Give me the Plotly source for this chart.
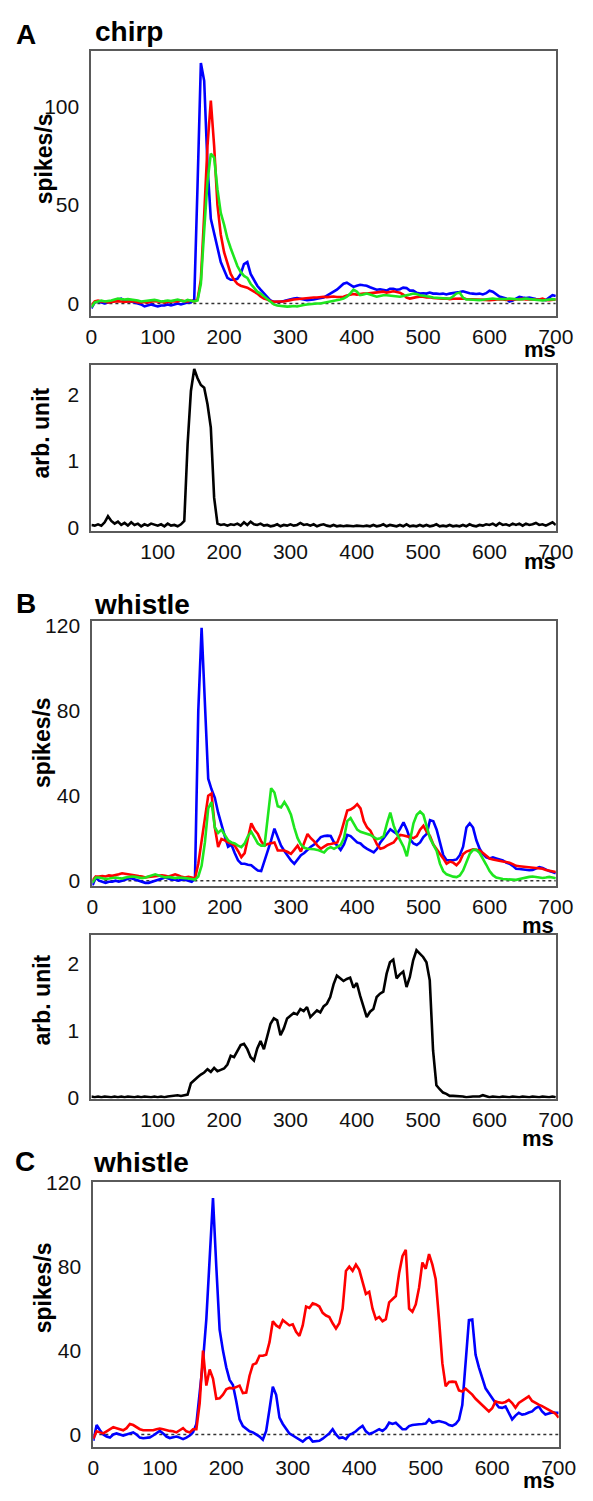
import plotly.graph_objects as go

W, H = 593, 1501
time_ms = list(range(0, 705, 5))

# ---------------- Panel A: chirp (spikes/s) ----------------
chirp_blue = [
    -2.5, 0.5, 1, 0.5, 0, 0.5, 1, 1.5, 2, 2.5,
    1.5, 1, 1, 0.5, 0, -0.5, -1.5, -1, -0.5, -1,
    -1.5, -1, -1, -0.5, -1, -0.5, 0, -0.5, 0, 0.5,
    0.5, 2, 60, 122, 113, 70, 43, 36, 29, 21,
    17, 13, 12, 12, 12.5, 15, 20, 21, 15, 12,
    9, 7, 5, 3.5, 1.5, 0.8, 0.8, 0.9, 1.2, 1.7,
    2, 2.5, 2.7, 2.5, 2, 1.7, 1.8, 2, 2.4, 2.8,
    3, 4, 5, 5.8, 7, 8.5, 10, 10.5, 9.5, 8.4,
    9, 9.5, 9.2, 9, 8.2, 7.5, 7, 7.2, 7, 6.5,
    7.5, 7.5, 7, 7.2, 8, 7.8, 6.5, 6.5, 5.5, 5,
    5.2, 5, 5.5, 5, 5, 4.8, 5, 4.6, 5, 5.2,
    5.5, 5.8, 6.2, 5.5, 5.2, 5, 4.8, 5, 4.6, 5.2,
    6.5, 6, 4.5, 3.5, 3, 2.5, 1, 1.5, 2.5, 3.3,
    3, 2.8, 3, 2.5, 2.2, 2, 1.8, 1.7, 3, 4.2,
    3.8,
]
chirp_red = [
    -1, 1, 1.5, 1, 1, 0.5, 0.8, 1, 1.2, 1,
    0.8, 1, 1.2, 1, 0.5, 0.5, 0.8, 0.5, 1, 1.2,
    1, 0.8, 0.5, 0.8, 1, 1.2, 1, 1.5, 1.2, 1,
    1.5, 1, 2, 12, 45, 80, 103, 80, 50, 35,
    26, 20, 15, 12, 10, 9, 8.5, 8, 7, 6,
    5, 3.5, 2.5, 2, 1.2, 0.9, 0.8, 1, 1, 1.5,
    1.7, 2, 2.2, 2.3, 2.5, 2.5, 2.8, 3, 3, 3.2,
    3.4, 3.2, 3.4, 3.5, 3.3, 3.4, 3.4, 4, 4.5, 4.8,
    4.5, 4.8, 5, 5, 5.2, 5.5, 5.8, 5.8, 6, 5.5,
    6, 6.2, 5.8, 5.5, 4.5, 3, 2.5, 3, 3.2, 3.4,
    3.4, 3, 3.2, 2.8, 2.6, 2.5, 2.4, 2.5, 2.2, 2.4,
    2.5, 2.6, 2.5, 2.3, 2.2, 2, 2.1, 1.9, 1.7, 1.8,
    1.7, 1.8, 2, 2.2, 2, 1.8, 2, 1.9, 2, 2.2,
    2.3, 2, 2, 1.8, 1.7, 2, 2.5, 1.8, 1.6, 1.8,
    2,
]
chirp_green = [
    -2, 0.5, 1, 1.5, 1, 1.2, 1.5, 2, 2.5, 2.2,
    2, 2.2, 2, 2, 1.5, 1, 1.2, 1.5, 1.5, 1.8,
    1.5, 1, 1.2, 1.5, 1.2, 1.5, 2, 1.5, 1, 1.8,
    1.5, 1, 1.5, 10, 37, 62, 76, 74, 58, 46,
    40, 33, 28, 23, 19, 16, 14, 13, 10, 8,
    6, 5, 3.5, 2, 0.5, -0.5, -1, -1.3, -1.5, -1.6,
    -1.5, -1.3, -1.5, -1, -0.8, -0.5, -0.3, 0, 0, 0,
    0.3, 0.6, 1, 1.3, 1.7, 2, 2.5, 3.4, 5, 7,
    6, 4.2, 4.5, 5, 4.5, 4, 3.4, 3.8, 4.2, 4.2,
    4, 3.6, 3.4, 3.4, 3.8, 4, 4.5, 5, 4.8, 4.2,
    4, 3.8, 3.4, 3, 2.8, 2.6, 2.5, 2.5, 2.5, 3.5,
    5, 5.5, 3, 2, 2, 1.8, 1.7, 1.7, 1.9, 2.2,
    2.5, 2.5, 2.3, 2.2, 2, 2.2, 2.5, 2.3, 2, 2,
    2.2, 2.5, 2.2, 2, 1.8, 1.5, 1.5, 1.8, 2, 2.2,
    2,
]
chirp_stim = [
    0.04, 0.03, 0.05, 0.03, 0.08, 0.17, 0.10, 0.06, 0.09, 0.04,
    0.07, 0.03, 0.08, 0.04, 0.06, 0.02, 0.05, 0.03, 0.06, 0.04,
    0.03, 0.05, 0.02, 0.06, 0.03, 0.04, 0.02, 0.05, 0.10, 1.25,
    2.05, 2.38, 2.24, 2.14, 2.10, 1.85, 1.50, 0.45, 0.06, 0.04,
    0.05, 0.03, 0.05, 0.04, 0.06, 0.03, 0.08, 0.04, 0.09, 0.05,
    0.04, 0.06, 0.03, 0.04, 0.02, 0.03, 0.05, 0.02, 0.04, 0.03,
    0.05, 0.03, 0.04, 0.07, 0.04, 0.05, 0.03, 0.05, 0.02, 0.04,
    0.05, 0.03, 0.02, 0.04, 0.02, 0.03, 0.02, 0.03, 0.02, 0.02,
    0.03, 0.02, 0.02, 0.03, 0.02, 0.04, 0.02, 0.03, 0.05, 0.02,
    0.04, 0.03, 0.02, 0.04, 0.02, 0.05, 0.02, 0.03, 0.02, 0.04,
    0.02, 0.04, 0.02, 0.03, 0.05, 0.02, 0.03, 0.02, 0.04, 0.02,
    0.03, 0.02, 0.04, 0.02, 0.05, 0.03, 0.02, 0.04, 0.03, 0.05,
    0.04, 0.06, 0.03, 0.07, 0.04, 0.05, 0.03, 0.06, 0.04, 0.06,
    0.03, 0.06, 0.04, 0.05, 0.07, 0.04, 0.05, 0.03, 0.06, 0.08,
    0.04,
]

# ---------------- Panel B: whistle (spikes/s) ----------------
whistle_blue = [
    -2.5, 1.5, 0, -0.5, -1, -0.5, -0.5, 0, -0.5, 0,
    0.5, 1, 1, 0.5, 0, -0.5, -1, -1, -0.5, 0,
    0.5, 1, 1.5, 1, 0.5, 0.5, 0, 0.5, 0.5, 0,
    -0.5, 1, 80, 119, 85, 48, 43, 39, 32, 26,
    21, 16, 17, 13, 9.6, 8, 8, 7.5, 7.3, 6,
    4.8, 4.5, 9, 14, 19, 24.5, 20, 16.5, 14, 11.5,
    9.5, 8, 10, 12, 13, 14.5, 16, 17, 19, 20.5,
    21, 21.2, 21, 18, 16.5, 14.5, 17, 21.5, 21, 19.5,
    18, 17.5, 16, 15, 14, 13.3, 15, 18, 20, 22,
    24.2, 23, 22, 24.5, 27.5, 24, 19.5, 17.5, 16.8, 18,
    20.5, 22, 28.5, 28, 24, 18, 12, 9.6, 9.6, 9.6,
    10, 12, 16, 25, 27, 25, 19, 15, 12.5, 11,
    10.5, 11, 10.5, 10, 9.5, 8.5, 8, 7, 5.6, 5.5,
    5.2, 5, 4.9, 5, 5.8, 6.4, 6, 5.2, 4.5, 4.1,
    3.5,
]
whistle_red = [
    0, 2, 2, 2.2, 2, 2.5, 2.3, 2.5, 3, 3.5,
    3.2, 2.8, 2.5, 2.5, 2.2, 2, 1.5, 1.8, 2, 2,
    2.2, 2.5, 2.3, 2, 2.5, 3, 2.5, 1.8, 1.5, 1.8,
    1.5, 1, 8, 18, 30, 40, 41, 25, 15.8, 19.6,
    19, 18, 17.5, 16.5, 14, 11.1, 13, 20, 27, 24,
    22, 18.5, 16.5, 17.3, 17.6, 18, 14.2, 14.2, 14.2, 13.5,
    12.6, 14.5, 16.5, 13.7, 18, 22, 20, 18.5, 16.5, 15,
    16, 17, 17.3, 17.5, 18, 22, 28, 33, 33.5, 34.5,
    36, 34, 28, 25, 23.5, 20, 17, 15, 15.5, 16.5,
    17.2, 18, 20, 21.5, 21.3, 21, 20.5, 20, 21, 24,
    25.8, 23, 21, 17, 15, 13, 10.5, 8, 9, 8.5,
    7.3, 9, 12.5, 13.7, 14.2, 14.7, 14.5, 14.2, 13, 11.5,
    10.4, 10, 9.6, 9.3, 9, 8.8, 8.5, 7.8, 7, 6.8,
    6.6, 6.4, 6.2, 6, 5.8, 5.7, 5.6, 5, 4.6, 4.3,
    4.1,
]
whistle_green = [
    -1, 1.5, 1.5, 1, 0.8, 1, 1.2, 1.5, 1.2, 1,
    1.5, 1.8, 2, 1.8, 1.5, 1.2, 1.5, 2, 2.5, 3,
    2.5, 2, 1.5, 1.8, 1.5, 1.2, 1.5, 1.2, 1.2, 1,
    0.8, 0.5, 2, 7, 18, 34, 37, 25, 22.5, 24,
    21.5, 19, 18, 17.5, 16.5, 15.8, 17.5, 21, 23, 20,
    17.5, 16.5, 16.5, 30, 43.5, 41.5, 35, 34.5, 37, 34.5,
    31, 25, 20, 17, 15.5, 15, 15, 14.8, 14.5, 14,
    13.3, 15, 15.8, 15, 16, 16.8, 20, 28, 29.5, 27,
    24, 23, 22.5, 22, 21.5, 20.5, 19.6, 20, 21, 27,
    32, 26, 22, 19, 16, 11.5, 20, 27, 31, 32.5,
    31, 25, 20, 17, 14, 8, 4.5, 3, 2.3, 1.9,
    1.7, 2.5, 4.8, 9, 12.6, 14.5, 14.5, 13, 10.5, 7.5,
    4.5, 2.6, 1.5, 1.1, 0.8, 0.7, 0.6, 0.5, 0.4, 0.8,
    1.2, 1.5, 1.8, 2, 1.8, 1.5, 1.3, 1.5, 1.8, 1.5,
    1.1,
]
whistle_stim = [
    0.01, 0.00, 0.01, 0.00, 0.01, 0.00, 0.00, 0.01, 0.00, 0.01,
    0.00, 0.01, 0.00, 0.00, 0.01, 0.00, 0.01, 0.00, 0.00, 0.01,
    0.00, 0.01, 0.00, 0.01, 0.02, 0.02, 0.03, 0.02, 0.03, 0.04,
    0.21, 0.26, 0.30, 0.34, 0.37, 0.42, 0.38, 0.44, 0.39, 0.41,
    0.43, 0.49, 0.62, 0.60, 0.70, 0.78, 0.80, 0.72, 0.60, 0.55,
    0.73, 0.84, 0.72, 0.90, 1.10, 1.18, 1.15, 0.93, 1.03, 1.18,
    1.22, 1.26, 1.24, 1.32, 1.29, 1.35, 1.20, 1.25, 1.30, 1.27,
    1.36, 1.40, 1.50, 1.69, 1.82, 1.78, 1.74, 1.77, 1.79, 1.64,
    1.71, 1.52, 1.35, 1.20, 1.28, 1.32, 1.50, 1.55, 1.58, 1.85,
    2.02, 2.06, 1.78, 1.84, 1.88, 1.65, 1.80, 2.05, 2.20, 2.15,
    2.10, 2.02, 1.75, 0.70, 0.18, 0.12, 0.07, 0.05, 0.02, 0.02,
    0.02, 0.01, 0.01, 0.00, 0.01, 0.01, 0.01, 0.01, 0.03, 0.01,
    0.00, 0.01, 0.00, 0.00, 0.01, 0.00, 0.00, 0.01, 0.00, 0.00,
    0.01, 0.00, 0.00, 0.01, 0.00, 0.00, 0.01, 0.00, 0.00, 0.01,
    0.00,
]

# ---------------- Panel C: whistle (spikes/s) ----------------
c_blue = [
    -3, 4.5, 2, 0, -1, -1.5, 0, 0.5, 0, -0.5,
    0, 0.5, 1, 0, -1.5, -1.8, -1.5, -1.4, -0.5, 0.5,
    1.7, 0.5, -1, -1.7, -1.5, -1, -1.5, -2.2, -1.5, -0.5,
    1, 5, 20, 35, 55, 85, 112.7, 80, 50, 40,
    32, 26, 23.6, 15.8, 7.2, 4, 2.5, 1.5, 1, 0.2,
    -1, -2.5, 1.7, 12, 22.8, 18.9, 8, 5, 3, 0.5,
    -0.5, -1.4, -2.5, -3.4, -2, -1.4, -3.4, -3.2, -3, -2,
    -0.5, 0.5, 2.5, 0, -1.7, -1.4, -2.2, -0.2, 0.5, 1.5,
    3, 4.1, 1.5, 0.2, 0.8, 1.8, 2.5, 1.7, 3, 5.6,
    5, 5.6, 4, 2.5, 2.5, 4, 4.5, 4.8, 4.9, 5,
    5.2, 7.2, 5.6, 6, 6.4, 6, 5.5, 4.5, 4.1, 5,
    7, 14, 33, 54.5, 54.8, 38, 32, 27, 22, 19.7,
    17, 15, 13, 12.7, 13.4, 10, 7.2, 9, 10.3, 9.5,
    9.8, 10.5, 11, 12.5, 13.4, 11, 9.5, 10, 10.5, 10.3,
    10.3,
]
c_red = [
    -2, 1.5, 1, 0.5, 1.5, 2.5, 3.5, 3, 2.5, 2,
    3, 5, 4.5, 3.5, 2.5, 2, 2, 2.2, 2, 2.5,
    2.8, 2.5, 2, 1.7, 1.5, 1, 2, 3, 1.5, 1,
    2.5, 2.5, 15, 40, 23.3, 31, 26.7, 17, 17.2, 19,
    21.5, 22.2, 22, 22.5, 23.3, 19.7, 20, 28, 33.3, 34,
    37.5, 37.5, 38, 44, 54, 52, 51, 54.5, 53, 52,
    52.5, 49, 47, 52, 61, 60.3, 62.5, 62, 61, 58,
    56.7, 56, 53, 50.5, 53, 60, 78, 80, 78, 81,
    78.5, 72, 67, 68, 60, 55, 56, 54, 55, 63,
    64.5, 66, 77, 85, 88, 60, 58.5, 62, 70, 82,
    79, 86, 81, 74, 55, 34, 23, 25, 25.2, 25,
    21, 20.5, 21.8, 20.5, 19, 17, 15.5, 14.2, 12.5, 11,
    12.5, 15.8, 15.3, 15, 15.5, 16.5, 15, 12.7, 15, 16,
    17, 18.2, 16, 15, 14.2, 13.5, 12.7, 11.5, 11, 10,
    8,
]

# ---------------- tick labels ----------------
x_ticks_full = [0, 100, 200, 300, 400, 500, 600, 700]
x_ticks_stim = [100, 200, 300, 400, 500, 600, 700]
y_ticks_chirp = [0, 50, 100]
y_ticks_whistle = [0, 40, 80, 120]
y_ticks_stim = [0, 1, 2]

BLUE, RED, GREEN, BLACK = "#0000ff", "#ff0000", "#1ee61e", "#000000"
FONT = "Liberation Sans, Arial, sans-serif"


def dx(p0, p1):
    return [p0 / W, p1 / W]


def dy(p0, p1):
    return [1 - p1 / H, 1 - p0 / H]


# panel boxes in pixels (left, top, right, bottom)
panels = [
    dict(box=(89, 41, 573, 309), yr=[-6.2, 127.9], yt=y_ticks_chirp, xt=x_ticks_full, zero=True),
    dict(box=(89, 359, 573, 527), yr=[-0.045, 2.44], yt=y_ticks_stim, xt=x_ticks_stim, zero=False),
    dict(box=(90, 619, 573, 887), yr=[-2.3, 122], yt=y_ticks_whistle, xt=x_ticks_full, zero=True),
    dict(box=(89, 937, 573, 1103), yr=[-0.02, 2.43], yt=y_ticks_stim, xt=x_ticks_stim, zero=False),
    dict(box=(91, 1188, 576, 1456), yr=[-5.8, 120.2], yt=y_ticks_whistle, xt=x_ticks_full, zero=True),
]

series = [
    (1, [(chirp_blue, BLUE), (chirp_red, RED), (chirp_green, GREEN)]),
    (2, [(chirp_stim, BLACK)]),
    (3, [(whistle_blue, BLUE), (whistle_red, RED), (whistle_green, GREEN)]),
    (4, [(whistle_stim, BLACK)]),
    (5, [(c_blue, BLUE), (c_red, RED)]),
]

fig = go.Figure()
for idx, lines in series:
    sfx = "" if idx == 1 else str(idx)
    for vals, col in lines:
        fig.add_trace(go.Scatter(
            x=time_ms, y=vals, mode="lines",
            line=dict(color=col, width=2.6),
            xaxis="x" + sfx, yaxis="y" + sfx, showlegend=False, hoverinfo="skip",
        ))

layout = dict(
    width=W, height=H, margin=dict(l=0, r=0, t=0, b=0),
    paper_bgcolor="white", plot_bgcolor="white", showlegend=False,
    font=dict(family=FONT, color="#111"),
)
shapes = []
for i, p in enumerate(panels, start=1):
    sfx = "" if i == 1 else str(i)
    l, t, r, b = p["box"]
    axis_common = dict(
        showline=True, linecolor="#5a5a5a", linewidth=2, mirror=True,
        showgrid=False, zeroline=False, ticks="outside", tickcolor="rgba(0,0,0,0)",
        tickfont=dict(family=FONT, size=21, color="#111"), fixedrange=True,
    )
    layout["xaxis" + sfx] = dict(
        axis_common, domain=dx(l, r), range=[0, 700], tickvals=p["xt"],
        ticklen=1, anchor="y" + sfx,
    )
    layout["yaxis" + sfx] = dict(
        axis_common, domain=dy(t, b), range=p["yr"], tickvals=p["yt"],
        ticklen=6, anchor="x" + sfx,
    )
    if p["zero"]:
        shapes.append(dict(
            type="line", xref="x" + sfx, yref="y" + sfx, x0=0, x1=700, y0=0, y1=0,
            line=dict(color="#333", width=1.5, dash="dot"), layer="below",
        ))
layout["shapes"] = shapes


def ann(text, x, y, size, bold=True, angle=0, xanchor="center"):
    return dict(
        text=("<b>%s</b>" % text) if bold else text,
        x=x / W, y=1 - y / H, xref="paper", yref="paper",
        xanchor=xanchor, yanchor="middle", showarrow=False, textangle=angle,
        font=dict(family=FONT, size=size, color="#000"),
    )


annotations = [
    ann("A", 21, 24, 28), ann("chirp", 91, 21, 28, xanchor="left"),
    ann("B", 21, 601, 28), ann("whistle", 90, 602, 28, xanchor="left"),
    ann("C", 20, 1167, 28), ann("whistle", 89, 1168, 28, xanchor="left"),
    ann("spikes/s", 39, 150, 23, angle=-90),
    ann("arb. unit", 37, 428, 23, angle=-90),
    ann("spikes/s", 37, 742, 23, angle=-90),
    ann("arb. unit", 37, 1003, 23, angle=-90),
    ann("spikes/s", 38, 1295, 23, angle=-90),
    ann("ms", 557, 343, 22), ann("ms", 557, 558, 22),
    ann("ms", 554, 927, 22), ann("ms", 554, 1143, 22),
    ann("ms", 555, 1490, 22),
]
layout["annotations"] = annotations

fig.update_layout(**layout)
fig.write_html(
    "out.html",
    config={"displayModeBar": False, "staticPlot": True},
    post_script="document.body.style.margin='0px';",
)
